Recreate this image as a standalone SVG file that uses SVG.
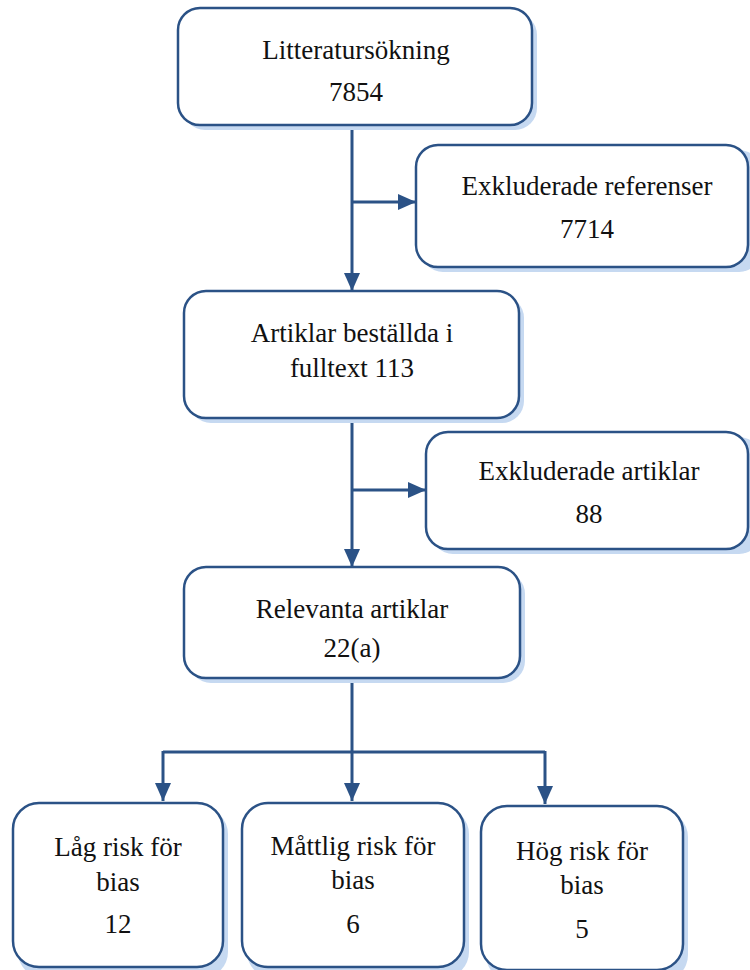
<svg xmlns="http://www.w3.org/2000/svg" width="750" height="970" viewBox="0 0 750 970">
<style>
.box{fill:#ffffff;stroke:#2b5286;stroke-width:2.5}
.shd{fill:#c6d9f1;stroke:none}
.t{font-family:'Liberation Serif','Times New Roman',Times,'DejaVu Serif',serif;font-size:27px;fill:#111111;text-anchor:middle}
.c{fill:none;stroke:#2b5286;stroke-width:3}
</style>
<defs>
<marker id="ah" markerUnits="userSpaceOnUse" markerWidth="18" markerHeight="16" viewBox="0 0 18 16" refX="18" refY="8" orient="auto">
<path d="M0,0 L18,8 L0,16 Z" fill="#2b5286"/>
</marker>
</defs>
<rect width="750" height="970" fill="#ffffff"/>
<g id="connectors">
<line class="c" x1="352" y1="125" x2="352" y2="291" marker-end="url(#ah)"/>
<line class="c" x1="352" y1="202" x2="416" y2="202" marker-end="url(#ah)"/>
<line class="c" x1="352" y1="418" x2="352" y2="567" marker-end="url(#ah)"/>
<line class="c" x1="352" y1="490" x2="426" y2="490" marker-end="url(#ah)"/>
<line class="c" x1="352" y1="679" x2="352" y2="801" marker-end="url(#ah)"/>
<path class="c" d="M163,752 H545"/>
<line class="c" x1="163" y1="751" x2="163" y2="801" marker-end="url(#ah)"/>
<line class="c" x1="545" y1="751" x2="545" y2="804" marker-end="url(#ah)"/>
</g>
<g id="n1">
<rect class="shd" x="183" y="13" width="354" height="117" rx="22"/>
<rect class="box" x="178" y="8" width="354" height="117" rx="22"/>
<text class="t" x="356" y="59" font-family="Liberation Serif, serif">Litteratursökning</text>
<text class="t" x="356" y="101" font-family="Liberation Serif, serif">7854</text>
</g>
<g id="n2">
<rect class="shd" x="421" y="150" width="340" height="122" rx="22"/>
<rect class="box" x="416" y="145" width="332" height="122" rx="22"/>
<text class="t" x="587" y="195" font-family="Liberation Serif, serif">Exkluderade referenser</text>
<text class="t" x="587" y="238" font-family="Liberation Serif, serif">7714</text>
</g>
<g id="n3">
<rect class="shd" x="189" y="296" width="335" height="127" rx="22"/>
<rect class="box" x="184" y="291" width="335" height="127" rx="22"/>
<text class="t" x="352" y="342" font-family="Liberation Serif, serif">Artiklar beställda i</text>
<text class="t" x="352" y="377" font-family="Liberation Serif, serif">fulltext 113</text>
</g>
<g id="n4">
<rect class="shd" x="431" y="437" width="330" height="117" rx="22"/>
<rect class="box" x="426" y="432" width="322" height="117" rx="22"/>
<text class="t" x="589" y="480" font-family="Liberation Serif, serif">Exkluderade artiklar</text>
<text class="t" x="589" y="523" font-family="Liberation Serif, serif">88</text>
</g>
<g id="n5">
<rect class="shd" x="189" y="572" width="336" height="111" rx="22"/>
<rect class="box" x="184" y="567" width="336" height="111" rx="22"/>
<text class="t" x="352" y="618" font-family="Liberation Serif, serif">Relevanta artiklar</text>
<text class="t" x="352" y="657" font-family="Liberation Serif, serif">22(a)</text>
</g>
<g id="n6">
<rect class="shd" x="18" y="808" width="210" height="170" rx="26"/>
<rect class="box" x="13" y="803" width="210" height="164" rx="26"/>
<text class="t" x="118" y="856" font-family="Liberation Serif, serif">Låg risk för</text>
<text class="t" x="118" y="891" font-family="Liberation Serif, serif">bias</text>
<text class="t" x="118" y="933" font-family="Liberation Serif, serif">12</text>
</g>
<g id="n7">
<rect class="shd" x="247" y="808" width="222" height="170" rx="26"/>
<rect class="box" x="242" y="803" width="222" height="164" rx="26"/>
<text class="t" x="353" y="855" font-family="Liberation Serif, serif">Måttlig risk för</text>
<text class="t" x="353" y="889" font-family="Liberation Serif, serif">bias</text>
<text class="t" x="353" y="933" font-family="Liberation Serif, serif">6</text>
</g>
<g id="n8">
<rect class="shd" x="486" y="811" width="202" height="170" rx="26"/>
<rect class="box" x="481" y="806" width="202" height="164" rx="26"/>
<text class="t" x="582" y="860" font-family="Liberation Serif, serif">Hög risk för</text>
<text class="t" x="582" y="894" font-family="Liberation Serif, serif">bias</text>
<text class="t" x="582" y="938" font-family="Liberation Serif, serif">5</text>
</g>
</svg>
